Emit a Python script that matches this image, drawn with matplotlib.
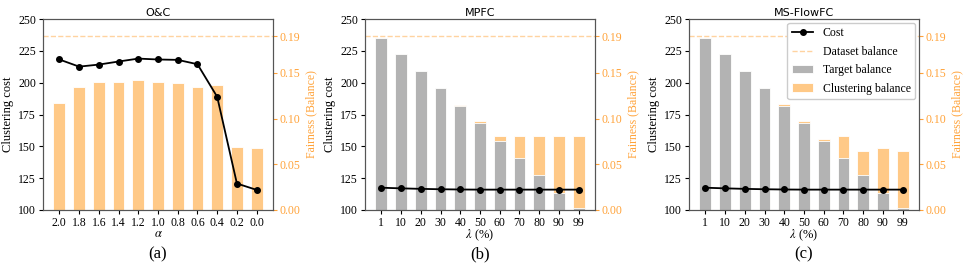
import numpy as np
import matplotlib.pyplot as plt

plt.rcParams["font.family"] = ["Liberation Serif", "DejaVu Serif"]
plt.rcParams["mathtext.fontset"] = "stix"

# ---------------------------------------------
# Data
# ---------------------------------------------
dataset_balance = 0.19

alpha_labels = ["2.0", "1.8", "1.6", "1.4", "1.2", "1.0", "0.8", "0.6", "0.4", "0.2", "0.0"]
oc_cost = [218.2, 212.6, 214.2, 216.6, 218.9, 218.2, 217.9, 214.5, 188.9, 120.8, 115.8]
oc_balance = [0.117, 0.135, 0.140, 0.140, 0.142, 0.140, 0.139, 0.135, 0.137, 0.069, 0.068]

lambda_labels = ["1", "10", "20", "30", "40", "50", "60", "70", "80", "90", "99"]
target_balance = [0.188, 0.171, 0.152, 0.133, 0.114, 0.095, 0.076, 0.057, 0.038, 0.019, 0.002]

mpfc_cost = [117.5, 117.0, 116.6, 116.3, 116.1, 116.0, 116.0, 116.0, 116.0, 116.0, 116.0]
mpfc_balance = [0.188, 0.171, 0.152, 0.134, 0.115, 0.097, 0.081, 0.081, 0.081, 0.081, 0.081]

msf_cost = [117.5, 117.0, 116.6, 116.3, 116.1, 116.0, 116.0, 116.0, 116.0, 116.0, 116.0]
msf_balance = [0.188, 0.171, 0.152, 0.134, 0.116, 0.097, 0.078, 0.081, 0.065, 0.068, 0.065]

orange = "#ffc987"
gray = "#b3b3b3"
tick_orange = "#ffa33a"
spine_col = "#555555"

panels = [
    ("O&C", alpha_labels, oc_cost, oc_balance, None, r"$\alpha$", "(a)"),
    ("MPFC", lambda_labels, mpfc_cost, mpfc_balance, target_balance, r"$\lambda$ (%)", "(b)"),
    ("MS-FlowFC", lambda_labels, msf_cost, msf_balance, target_balance, r"$\lambda$ (%)", "(c)"),
]

fig = plt.figure(figsize=(9.66, 2.76), dpi=100)
lefts = [43, 365, 689]
W, H = 966, 276

for i, (title, labels, cost, bal, target, xlab, cap) in enumerate(panels):
    ax = fig.add_axes([lefts[i] / W, 1 - 210 / H, 230 / W, 191 / H])
    ax2 = ax.twinx()
    x = np.arange(len(labels))

    ax2.bar(x, bal, width=0.6, color=orange, edgecolor="white", linewidth=0.6,
            label="Clustering balance")
    if target is not None:
        ax2.bar(x, target, width=0.6, color=gray, edgecolor="white", linewidth=0.6,
                label="Target balance")
    ax2.axhline(dataset_balance, color="#ffd3a0", linestyle="--", linewidth=1.0,
                label="Dataset balance")
    ax2.set_ylim(0, dataset_balance * 1.1)
    ax2.set_yticks([0.0, 0.05, 0.10, 0.15, 0.19])
    ax2.set_yticklabels(["0.00", "0.05", "0.10", "0.15", "0.19"])
    ax2.tick_params(axis="y", colors=tick_orange, labelsize=8.5, length=3, pad=2)
    ax2.set_ylabel("Fairness (Balance)", color=tick_orange, fontsize=8.5, labelpad=3)

    ax.set_zorder(ax2.get_zorder() + 1)
    ax.patch.set_visible(False)
    ax.plot(x, cost, color="black", marker="o", markersize=4, linewidth=1.3, label="Cost")
    ax.set_ylim(100, 250)
    ax.set_yticks([100, 125, 150, 175, 200, 225, 250])
    ax.set_xticks(x)
    ax.set_xticklabels(labels)
    ax.tick_params(labelsize=8.5, length=3, pad=2)
    ax.set_ylabel("Clustering cost", fontsize=9, labelpad=3)
    ax.set_xlabel(xlab, fontsize=9, labelpad=-1)
    ax.set_title(title, fontsize=8, family="DejaVu Sans", pad=2)
    ax.text(0.5, -0.235, cap, transform=ax.transAxes, ha="center", va="center", fontsize=12)

    for a in (ax, ax2):
        for s in a.spines.values():
            s.set_color(spine_col)

    if i == 2:
        h1, l1 = ax.get_legend_handles_labels()
        h2, l2 = ax2.get_legend_handles_labels()
        hd = dict(zip(l1 + l2, h1 + h2))
        order = ["Cost", "Dataset balance", "Target balance", "Clustering balance"]
        ax.legend([hd[k] for k in order], order, loc="upper right", fontsize=8.5,
                  framealpha=1.0, borderaxespad=0.3, handlelength=1.8, handletextpad=0.8,
                  labelspacing=0.55)

fig.savefig("out.png", dpi=100)
